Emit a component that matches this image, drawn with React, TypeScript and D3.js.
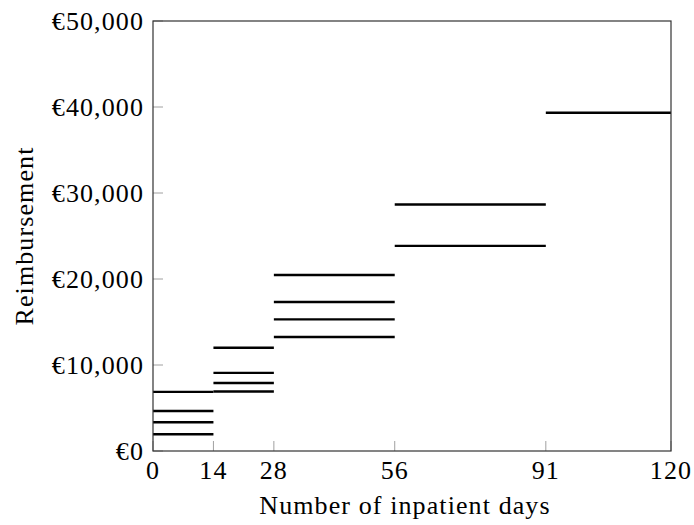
import React from "react";
import * as d3 from "d3";

const segStarts = [0, 14, 28, 56, 91];
const segEnds = [14, 28, 56, 91, 120];
const seg1Values = [1950, 3350, 4650, 6880];
const seg2Values = [6920, 7900, 9080, 12000];
const seg3Values = [13260, 15310, 17320, 20470];
const seg4Values = [23850, 28660];
const seg5Values = [39340];
const xTicks = [0, 14, 28, 56, 91, 120];
const yTicks = [0, 10000, 20000, 30000, 40000, 50000];
const xLabel = "Number of inpatient days";
const yLabel = "Reimbursement";

const groups = [seg1Values, seg2Values, seg3Values, seg4Values, seg5Values];

export default function App() {
  const W = 694, H = 525;
  const m = { left: 153, right: 671, top: 21, bottom: 451 };
  const x = d3.scaleLinear().domain([0, 120]).range([m.left, m.right]);
  const y = d3.scaleLinear().domain([0, 50000]).range([m.bottom, m.top]);
  const fmt = (v: number) => "€" + d3.format(",")(v);
  const font = "'Liberation Serif', 'DejaVu Serif', serif";
  const fs = 26;
  const ls = 1.1;
  const segs: { x0: number; x1: number; v: number }[] = [];
  groups.forEach((g, i) => g.forEach((v) => segs.push({ x0: segStarts[i], x1: segEnds[i], v })));
  return (
    <svg width={W} height={H} style={{ position: "absolute", left: 0, top: 0 }} fontFamily={font}>
      <rect x={0} y={0} width={W} height={H} fill="white" />
      {yTicks.map((t) => (
        <line key={"yt" + t} x1={m.left} x2={m.left + 10} y1={y(t)} y2={y(t)} stroke="#a0a0a0" strokeWidth={1} />
      ))}
      {xTicks.map((t) => (
        <line key={"xt" + t} x1={x(t)} x2={x(t)} y1={m.bottom} y2={m.bottom - 10} stroke="#a0a0a0" strokeWidth={1} />
      ))}
      {segs.map((s, i) => (
        <line key={"s" + i} x1={x(s.x0)} x2={x(s.x1)} y1={y(s.v)} y2={y(s.v)} stroke="#000" strokeWidth={2.4} />
      ))}
      <rect x={m.left} y={m.top} width={m.right - m.left} height={m.bottom - m.top} fill="none" stroke="#333" strokeWidth={1.2} />
      {yTicks.map((t) => (
        <text key={"yl" + t} x={m.left - 9} y={y(t)} dy="0.33em" textAnchor="end" fontSize={fs} letterSpacing={ls} fill="#000">
          {fmt(t)}
        </text>
      ))}
      {xTicks.map((t) => (
        <text key={"xl" + t} x={x(t)} y={479} textAnchor="middle" fontSize={fs} letterSpacing={ls} fill="#000">
          {t}
        </text>
      ))}
      <text x={405} y={514} textAnchor="middle" fontSize={fs} letterSpacing={ls} fill="#000">
        {xLabel}
      </text>
      <text transform={`translate(33, ${(m.top + m.bottom) / 2}) rotate(-90)`} textAnchor="middle" fontSize={fs} letterSpacing={ls} fill="#000">
        {yLabel}
      </text>
    </svg>
  );
}
